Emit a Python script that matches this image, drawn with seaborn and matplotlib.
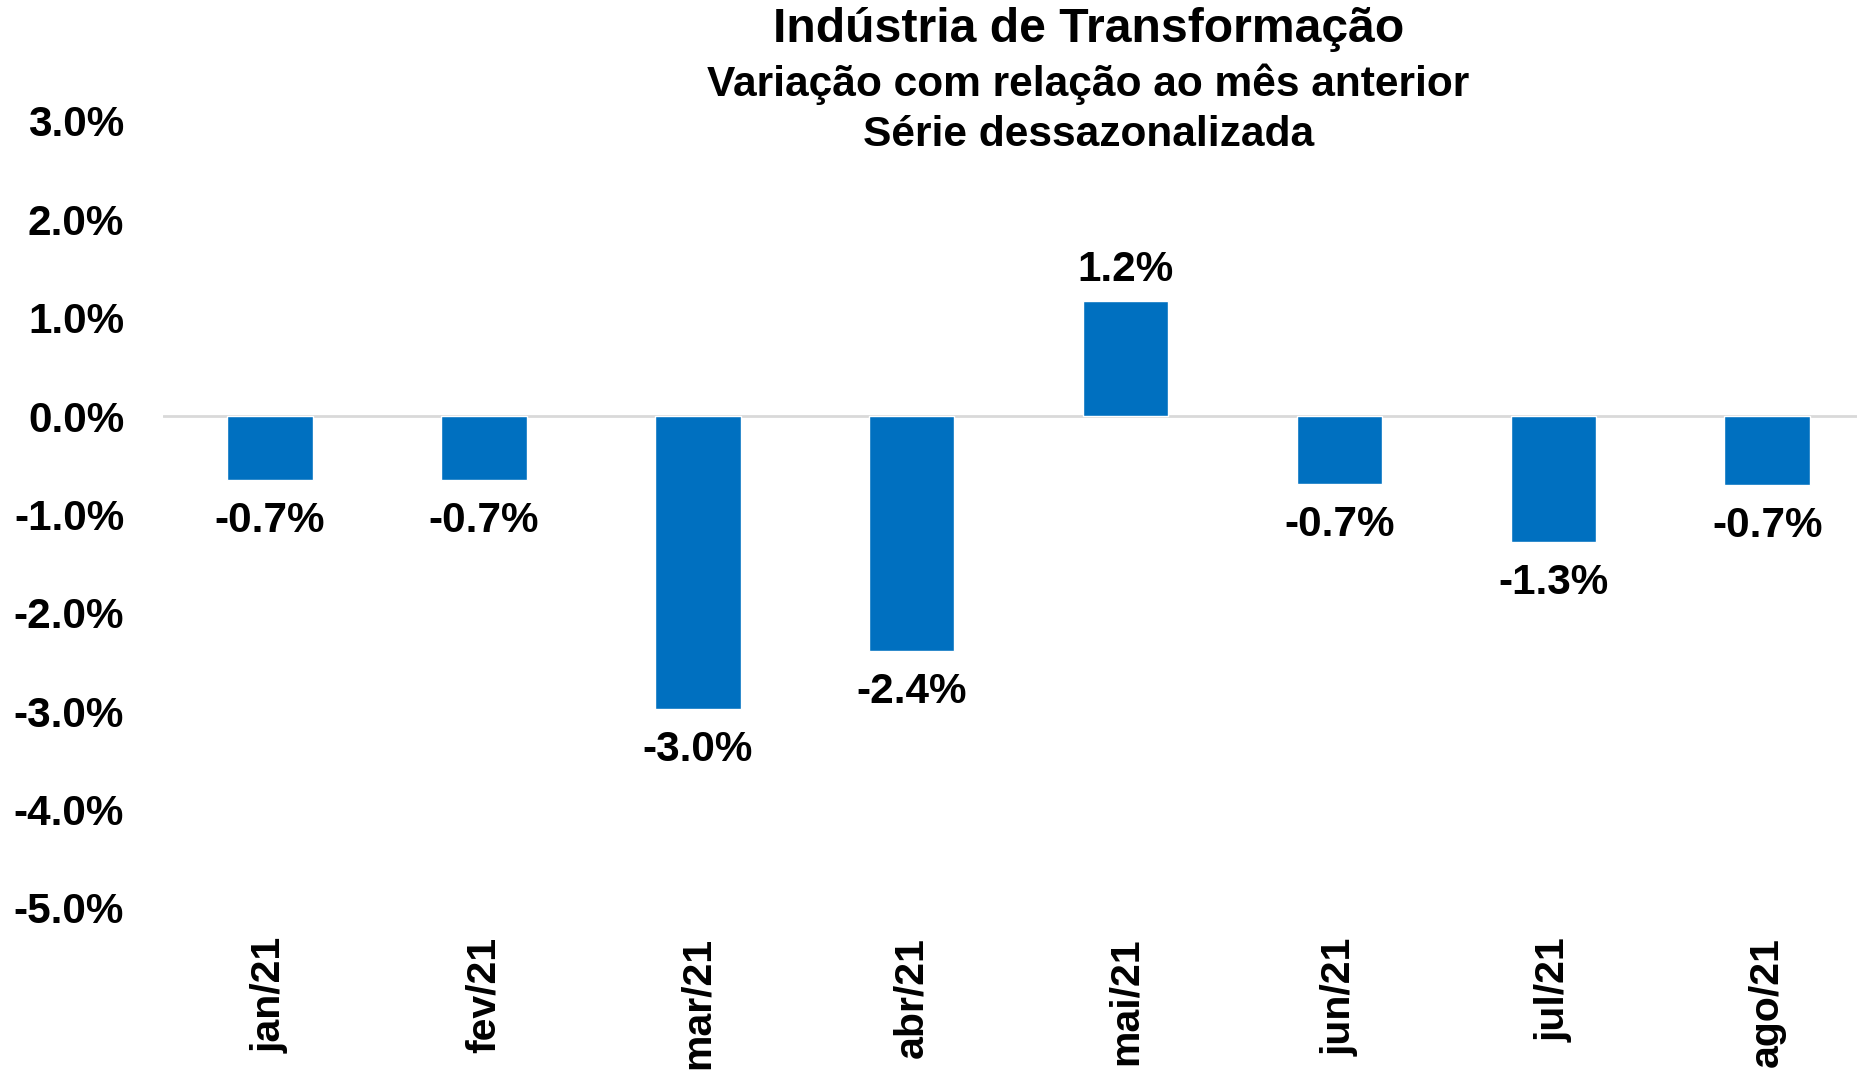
import matplotlib
matplotlib.use("Agg")
import matplotlib.pyplot as plt
import seaborn as sns
import pandas as pd

meses = ["jan/21", "fev/21", "mar/21", "abr/21", "mai/21", "jun/21", "jul/21", "ago/21"]
variacao = [-0.65, -0.65, -2.98, -2.39, 1.17, -0.69, -1.28, -0.70]
rotulos = ["-0.7%", "-0.7%", "-3.0%", "-2.4%", "1.2%", "-0.7%", "-1.3%", "-0.7%"]
yticks = [3, 2, 1, 0, -1, -2, -3, -4, -5]

sns.set_style("white")
plt.rcParams['font.family'] = ['Liberation Sans', 'DejaVu Sans']
plt.rcParams['font.weight'] = 'bold'
plt.rcParams['text.color'] = 'black'
plt.rcParams['xtick.color'] = 'black'
plt.rcParams['ytick.color'] = 'black'

df = pd.DataFrame({"mes": meses, "var": variacao})

fig = plt.figure(figsize=(18.57, 10.71), dpi=100)
ax = fig.add_axes([0.0878, 0.1522, 0.9122, 0.735])

sns.barplot(data=df, x="mes", y="var", color="#0070C0", saturation=1, width=0.4, ax=ax)

ax.axhline(0, color="#D9D9D9", lw=2, zorder=0)
ax.set_ylim(-5, 3)
ax.set_xlim(-0.5, 7.42)
ax.set_yticks(yticks)
ax.set_yticklabels([f"{v:.1f}%" for v in yticks], fontsize=30.4, fontweight='bold')
ax.tick_params(axis='y', length=0, pad=28)
ax.tick_params(axis='x', length=0, pad=21)
plt.setp(ax.get_xticklabels(), rotation=90, fontsize=29.5, fontweight='bold', va='top')
ax.set_xlabel("")
ax.set_ylabel("")
for s in ax.spines.values():
    s.set_visible(False)

# rótulos de dados
for barra, txt in zip(ax.containers[0], rotulos):
    h = barra.get_height()
    xc = barra.get_x() + barra.get_width() / 2
    off = 22.5 if h >= 0 else -29.5
    ax.annotate(txt, (xc, h), xytext=(0, off), textcoords='offset points',
                ha='center', va='center', fontsize=30.4, fontweight='bold')

fig.text(0.586, 0.972, "Indústria de Transformação", ha='center', va='center', fontsize=34.7, fontweight='bold')
fig.text(0.586, 0.921, "Variação com relação ao mês anterior", ha='center', va='center', fontsize=30.6, fontweight='bold')
fig.text(0.586, 0.874, "Série dessazonalizada", ha='center', va='center', fontsize=30.6, fontweight='bold')

fig.savefig("out.png", dpi=100)
